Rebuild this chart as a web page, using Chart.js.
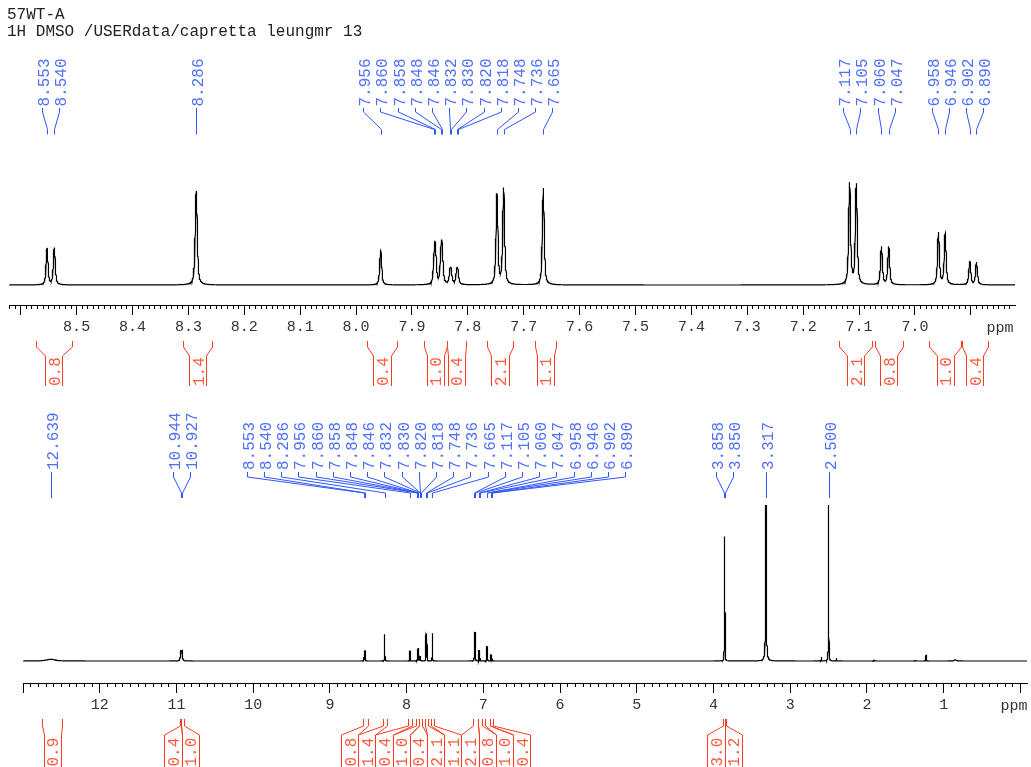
<!DOCTYPE html>
<html>
<head>
<meta charset="utf-8">
<title>57WT-A 1H NMR</title>
<script src="https://cdn.jsdelivr.net/npm/chart.js@4.4.1/dist/chart.umd.min.js"></script>
<style>
  html, body { margin: 0; padding: 0; background: #fff; }
  #wrap { position: relative; width: 1031px; height: 767px; overflow: hidden; background: #fff; }
  canvas { position: absolute; left: 0; }
  #topPlot { top: 0; }
  #fullPlot { top: 390px; }
</style>
</head>
<body>
<div id="wrap">
  <canvas id="topPlot" width="1031" height="390"></canvas>
  <canvas id="fullPlot" width="1031" height="377"></canvas>
</div>
<script>
// ---- sample header ----
const titleLines = ['57WT-A', '1H DMSO /USERdata/capretta leungmr 13'];

// ---- peak table: shift (ppm), intensity, half width at half height (ppm) ----
const peakShift  = [12.639, 10.944, 10.927, 8.553, 8.540, 8.286, 7.956, 7.860, 7.858, 7.848, 7.846,
                    7.832, 7.830, 7.820, 7.818, 7.748, 7.736, 7.665, 7.117, 7.105, 7.060, 7.047,
                    6.958, 6.946, 6.902, 6.890, 3.858, 3.850, 3.317, 2.500];
const peakHeight = [6, 34, 34, 36, 37, 94, 35, 26, 26, 27, 27,
                    10.5, 10.5, 10.5, 10.5, 90, 96, 97, 101, 100, 38, 38,
                    52, 51, 23.5, 22.5, 430, 150, 900, 900];
const peakWidth  = [0.07, 0.007, 0.007, 0.002, 0.002, 0.0022, 0.002, 0.002, 0.002, 0.002, 0.002,
                    0.002, 0.002, 0.002, 0.002, 0.002, 0.002, 0.002, 0.002, 0.002, 0.002, 0.002,
                    0.002, 0.002, 0.002, 0.002, 0.002, 0.002, 0.0045, 0.002];

// small unlabelled signals
const minorShift  = [2.596, 2.396, 1.910, 1.370, 1.230, 0.850];
const minorHeight = [14, 10, 3, 3, 20, 4];
const minorWidth  = [0.002, 0.002, 0.004, 0.004, 0.003, 0.02];

// ---- peak picking labels ----
const expansionLabels = [8.553, 8.540, 8.286, 7.956, 7.860, 7.858, 7.848, 7.846, 7.832, 7.830, 7.820,
                         7.818, 7.748, 7.736, 7.665, 7.117, 7.105, 7.060, 7.047, 6.958, 6.946, 6.902, 6.890];
const fullLabels = [12.639, 10.944, 10.927].concat(expansionLabels, [3.858, 3.850, 3.317, 2.500]);

// ---- integral regions (ppm) and values ----
const aroIntHi  = [8.573, 8.309, 7.981, 7.879, 7.838, 7.765, 7.680, 7.136, 7.072, 6.974, 6.916];
const aroIntLo  = [8.509, 8.258, 7.926, 7.838, 7.804, 7.720, 7.643, 7.076, 7.022, 6.918, 6.870];
const aroIntVal = ['0.8', '1.4', '0.4', '1.0', '0.4', '2.1', '1.1', '2.1', '0.8', '1.0', '0.4'];
const otherIntHi  = [12.75, 10.96, 10.935, 3.875, 3.855];
const otherIntLo  = [12.49, 10.935, 10.905, 3.855, 3.835];
const otherIntVal = ['0.9', '0.4', '1.0', '3.0', '1.2'];

// ---- axis windows ----
const expansionRange = [6.821, 8.621];
const fullRange = [-0.086, 13.0];

// ---------------------------------------------------------------
const BLUE_LINE = '#2f55ff', BLUE_TEXT = '#4f70ff';
const RED_LINE = '#ff3b1f', RED_TEXT = '#ff5a40';
const MONO = '"Liberation Mono", "DejaVu Sans Mono", monospace';
const LABEL_GAP = 17.2;

const allShift = peakShift.concat(minorShift);
const allHeight = peakHeight.concat(minorHeight);
const allWidth = peakWidth.concat(minorWidth);

function lineShape(dx, h, w) {
  const d = dx / w, d2 = d * d;
  return h * (0.6 / (1 + d2) + 0.4 * Math.exp(-Math.LN2 * d2));
}
function intensityAt(x) {
  let s = 0;
  for (let i = 0; i < allShift.length; i++) s += lineShape(x - allShift[i], allHeight[i], allWidth[i]);
  return s;
}
function sampleSpectrum(lo, hi, step) {
  const xs = [];
  for (let x = lo; x <= hi; x += step) xs.push(x);
  allShift.forEach((c, i) => {
    const w = allWidth[i], r = 12 * w, st = w / 5;
    for (let x = c - r; x <= c + r; x += st) if (x >= lo && x <= hi) xs.push(x);
  });
  xs.sort((a, b) => a - b);
  return xs.map(x => ({ x: x, y: intensityAt(x) }));
}

function tickValues(min, max, step) {
  const out = [];
  for (let k = Math.ceil(min / step - 1e-6); k * step <= max + 1e-6; k++) out.push({ value: +(k * step).toFixed(6) });
  return out;
}

// spread labels so neighbours sit at least LABEL_GAP apart, groups centred on their marks
function spread(centers, gap) {
  const order = centers.map((c, i) => i).sort((a, b) => centers[a] - centers[b]);
  let groups = order.map(i => ({ members: [i], sum: centers[i] }));
  let changed = true;
  while (changed) {
    changed = false;
    for (let g = 0; g < groups.length - 1; g++) {
      const a = groups[g], b = groups[g + 1];
      const aEnd = a.sum / a.members.length + (a.members.length - 1) / 2 * gap;
      const bStart = b.sum / b.members.length - (b.members.length - 1) / 2 * gap;
      if (bStart - aEnd < gap) {
        groups.splice(g, 2, { members: a.members.concat(b.members), sum: a.sum + b.sum });
        changed = true;
        break;
      }
    }
  }
  const out = new Array(centers.length);
  groups.forEach(g => {
    const n = g.members.length, m = g.sum / n;
    g.members.forEach((idx, k) => { out[idx] = m + (k - (n - 1) / 2) * gap; });
  });
  return out;
}

function vText(ctx, text, x, y) {
  ctx.save();
  ctx.translate(x, y);
  ctx.rotate(-Math.PI / 2);
  ctx.textAlign = 'left';
  ctx.textBaseline = 'alphabetic';
  ctx.fillText(text, 0, 0);
  ctx.restore();
}

function drawPeakMarks(ctx, scale, shifts, g) {
  const px = shifts.map(s => scale.getPixelForValue(s));
  const lx = spread(px, LABEL_GAP);
  ctx.save();
  ctx.strokeStyle = BLUE_LINE;
  ctx.lineWidth = 1;
  ctx.fillStyle = BLUE_TEXT;
  ctx.font = '16px ' + MONO;
  shifts.forEach((s, i) => {
    const a = Math.round(lx[i]) + 0.5, b = Math.round(px[i]) + 0.5;
    ctx.beginPath();
    ctx.moveTo(a, g.y0);
    ctx.lineTo(a, g.y1);
    ctx.lineTo(b, g.y2);
    ctx.lineTo(b, g.y3);
    ctx.stroke();
    vText(ctx, s.toFixed(3), lx[i] + 7, g.textY);
  });
  ctx.restore();
}

function drawIntegralMarks(ctx, scale, hi, lo, vals, g) {
  const xl = hi.map(p => scale.getPixelForValue(p));
  const xr = lo.map(p => scale.getPixelForValue(p));
  const c = xl.map((x, i) => (x + xr[i]) / 2);
  const lc = spread(c, LABEL_GAP);
  const half = LABEL_GAP / 2;
  ctx.save();
  ctx.strokeStyle = RED_LINE;
  ctx.lineWidth = 1;
  ctx.fillStyle = RED_TEXT;
  ctx.font = '16px ' + MONO;
  vals.forEach((v, i) => {
    const L = Math.round(xl[i]) + 0.5, R = Math.round(xr[i]) + 0.5;
    const iL = Math.round(lc[i] - half) + 0.5, iR = Math.round(lc[i] + half) + 0.5;
    ctx.beginPath();
    ctx.moveTo(L, g.y0); ctx.lineTo(L, g.y1); ctx.lineTo(iL, g.y2); ctx.lineTo(iL, g.y3);
    ctx.moveTo(R, g.y0); ctx.lineTo(R, g.y1); ctx.lineTo(iR, g.y2); ctx.lineTo(iR, g.y3);
    ctx.stroke();
    vText(ctx, v, lc[i] + 6, g.textY);
  });
  ctx.restore();
}

function makeSpectrum(canvas, cfg) {
  const axisFont = { family: MONO, size: 15 };
  return new Chart(canvas, {
    type: 'line',
    data: {
      datasets: [{
        data: cfg.points,
        borderColor: '#000',
        borderWidth: 1.2,
        pointRadius: 0,
        fill: false,
        tension: 0,
        xAxisID: 'x',
        yAxisID: 'y'
      }]
    },
    options: {
      responsive: false,
      animation: false,
      parsing: false,
      normalized: true,
      events: [],
      layout: { padding: cfg.padding },
      plugins: { legend: { display: false }, tooltip: { enabled: false } },
      scales: {
        y: { display: false, min: cfg.yMin, max: cfg.yMax },
        x: {
          type: 'linear', reverse: true, min: cfg.range[0], max: cfg.range[1],
          position: { y: cfg.yMin },
          afterBuildTicks: s => { s.ticks = tickValues(s.min, s.max, cfg.major); },
          ticks: {
            autoSkip: false, maxRotation: 0, minRotation: 0, padding: 4,
            color: '#333', font: axisFont,
            callback: (v, i, t) => (i === 0 || i === t.length - 1) ? '' : v.toFixed(cfg.decimals)
          },
          grid: { display: true, drawOnChartArea: false, drawTicks: true, tickLength: 9, tickColor: '#000', tickWidth: 1 },
          border: { display: true, color: '#000', width: 1 }
        },
        xm: {
          axis: 'x', type: 'linear', reverse: true, min: cfg.range[0], max: cfg.range[1],
          position: { y: cfg.yMin },
          afterBuildTicks: s => { s.ticks = tickValues(s.min, s.max, cfg.minor); },
          ticks: { display: false, autoSkip: false },
          grid: { display: true, drawOnChartArea: false, drawTicks: true, tickLength: 4, tickColor: '#000', tickWidth: 1 },
          border: { display: false }
        }
      }
    },
    plugins: [cfg.overlay]
  });
}

// ---- expanded aromatic region ----
makeSpectrum(document.getElementById('topPlot'), {
  points: sampleSpectrum(expansionRange[0], expansionRange[1], 0.0005),
  range: expansionRange, major: 0.1, minor: 0.01, decimals: 1,
  padding: { left: 9, right: 16, top: 140, bottom: 85 },
  yMin: -20, yMax: 145,
  overlay: {
    id: 'expansionMarks',
    afterDraw(chart) {
      const ctx = chart.ctx, sx = chart.scales.x;
      ctx.save();
      ctx.fillStyle = '#222';
      ctx.font = '16px ' + MONO;
      ctx.textAlign = 'left';
      ctx.textBaseline = 'alphabetic';
      ctx.fillText(titleLines[0], 7, 19);
      ctx.fillText(titleLines[1], 7, 36);
      ctx.fillStyle = '#333';
      ctx.font = '15px ' + MONO;
      ctx.textAlign = 'center';
      ctx.textBaseline = 'middle';
      ctx.fillText('ppm', 1000, 328);
      ctx.restore();
      drawPeakMarks(ctx, sx, expansionLabels, { y0: 108, y1: 112, y2: 129.5, y3: 134.5, textY: 106.5 });
      drawIntegralMarks(ctx, sx, aroIntHi, aroIntLo, aroIntVal, { y0: 341, y1: 347, y2: 356, y3: 386, textY: 386 });
    }
  }
});

// ---- full spectrum ----
makeSpectrum(document.getElementById('fullPlot'), {
  points: sampleSpectrum(fullRange[0], fullRange[1], 0.004),
  range: fullRange, major: 1, minor: 0.1, decimals: 0,
  padding: { left: 23, right: 4, top: 115, bottom: 84 },
  yMin: -77, yMax: 546,
  overlay: {
    id: 'fullMarks',
    afterDraw(chart) {
      const ctx = chart.ctx, sx = chart.scales.x;
      ctx.save();
      ctx.fillStyle = '#333';
      ctx.font = '15px ' + MONO;
      ctx.textAlign = 'center';
      ctx.textBaseline = 'middle';
      ctx.fillText('ppm', 1014, 316);
      ctx.restore();
      drawPeakMarks(ctx, sx, fullLabels, { y0: 82, y1: 87, y2: 103, y3: 108, textY: 80 });
      drawIntegralMarks(ctx, sx, otherIntHi.concat(aroIntHi), otherIntLo.concat(aroIntLo),
        otherIntVal.concat(aroIntVal), { y0: 329, y1: 336, y2: 345, y3: 377, textY: 376.5 });
    }
  }
});
</script>
</body>
</html>
